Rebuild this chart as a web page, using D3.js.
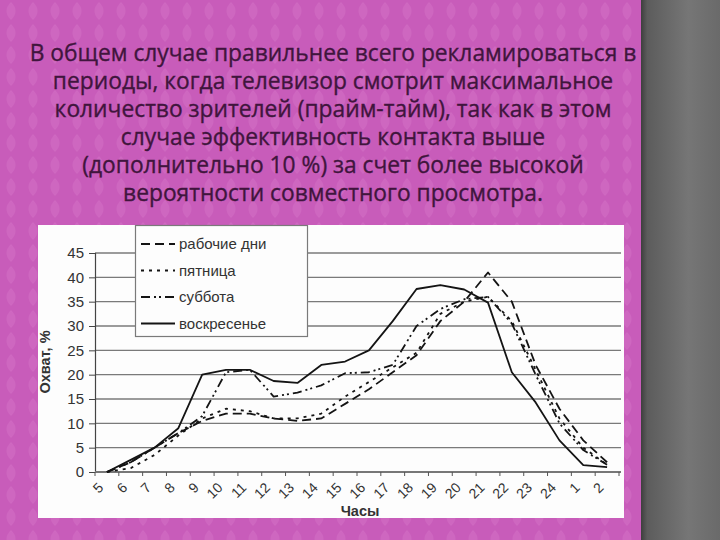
<!DOCTYPE html>
<html><head><meta charset="utf-8">
<script src="https://cdn.jsdelivr.net/npm/d3@7"></script>
<style>html,body{margin:0;padding:0;background:#c85cba;}svg{display:block;}</style>
</head><body>
<svg id="c" width="720" height="540"></svg>
<script>
// ---- data ----
const titleLines = [
  "В общем случае правильнее всего рекламироваться в",
  "периоды, когда телевизор смотрит максимальное",
  "количество зрителей (прайм-тайм), так как в этом",
  "случае эффективность контакта выше",
  "(дополнительно 10 %) за счет более высокой",
  "вероятности совместного просмотра."
];
const hours = ["5","6","7","8","9","10","11","12","13","14","15","16","17","18","19","20","21","22","23","24","1","2"];
const seriesNames = ["рабочие дни","пятница","суббота","воскресенье"];
const weekdays = [0, 2, 5, 8, 10.5, 12, 12, 11, 10.5, 11, 14, 17, 20.5, 24, 31, 35, 41, 35, 22, 13, 6.5, 2];
const friday   = [0, 0.8, 3.5, 7.5, 11, 13, 12.5, 11, 11, 12, 15.5, 18.5, 21.5, 24.5, 32.5, 35, 36, 31, 21, 11, 5, 1.5];
const saturday = [0, 2, 5, 8, 11.5, 20.5, 21, 15.5, 16.3, 17.8, 20.3, 20.5, 22, 30, 33.5, 35.5, 36, 30.5, 20, 10, 4.5, 1.5];
const sunday   = [0, 2.5, 5, 9, 20, 21, 21, 18.7, 18.3, 22, 22.7, 25, 31, 37.6, 38.4, 37.5, 34.8, 20.5, 14.3, 6.5, 1.4, 1];
const yTicks = [0, 5, 10, 15, 20, 25, 30, 35, 40, 45];
const yTitle = "Охват, %";
const xTitle = "Часы";

// ---- drawing ----
const svg = d3.select("#c");
const defs = svg.append("defs");
const pat = defs.append("pattern").attr("id","bgp").attr("patternUnits","userSpaceOnUse")
  .attr("width",22).attr("height",22);
pat.append("rect").attr("width",22).attr("height",22).attr("fill","#c85cba");
pat.append("path").attr("d","M11,2 Q20,11 11,20 Q2,11 11,2Z").attr("fill","#d06ac2").attr("opacity",0.8);
const grad = defs.append("linearGradient").attr("id","side").attr("x1","0").attr("x2","1").attr("y1","0").attr("y2","0");
grad.append("stop").attr("offset","0").attr("stop-color","#3e3e3e");
grad.append("stop").attr("offset","0.08").attr("stop-color","#5c5c5c");
grad.append("stop").attr("offset","0.6").attr("stop-color","#767676");
grad.append("stop").attr("offset","1").attr("stop-color","#6a6a6a");

svg.append("rect").attr("width",720).attr("height",540).attr("fill","url(#bgp)");
svg.append("rect").attr("x",641).attr("y",0).attr("width",79).attr("height",540).attr("fill","url(#side)");

// title
const tg = svg.append("g").attr("font-family","'Open Sans', 'DejaVu Sans', sans-serif")
  .attr("fill","#40153d").attr("stroke","#40153d").attr("stroke-width",0.35);
const tl = tg.selectAll("text").data(titleLines).join("text")
  .attr("x",333).attr("y",(d,i)=>61+i*28).attr("text-anchor","middle").text(d=>d);
let fs = 22; tl.attr("font-size",fs);
const w0 = tl.nodes()[0].getComputedTextLength();
fs = fs*607/w0; tl.attr("font-size",fs);

// chart panel
svg.append("rect").attr("x",38).attr("y",225).attr("width",586).attr("height",293).attr("fill","#fdfdfd");

const x = d3.scalePoint().domain(hours).range([95,619]).padding(0.5);
const y = d3.scaleLinear().domain([0,45]).range([472,253]);
const step = x.step();

// gridlines
svg.append("g").selectAll("line").data(yTicks.filter(v=>v>0)).join("line")
  .attr("x1",95).attr("x2",621).attr("y1",d=>y(d)).attr("y2",d=>y(d))
  .attr("stroke","#7a7a7a").attr("stroke-width",1.3);

// y axis
const ya = svg.append("g").attr("transform","translate(95,0)")
  .call(d3.axisLeft(y).tickValues(yTicks).tickSize(6).tickPadding(5));
ya.select(".domain").attr("stroke","#444").attr("stroke-width",1.2);
ya.selectAll(".tick line").attr("stroke","#444");
ya.selectAll(".tick text").attr("font-family","'Liberation Sans', Arial, sans-serif").attr("font-size",15).attr("fill","#333");

// x axis
svg.append("line").attr("x1",95).attr("x2",621).attr("y1",y(0)).attr("y2",y(0)).attr("stroke","#777").attr("stroke-width",2);
svg.append("g").selectAll("line").data(hours.concat(["end"])).join("line")
  .attr("x1",(d,i)=> i<hours.length ? x(d)-step/2 : x(hours[hours.length-1])+step/2)
  .attr("x2",(d,i)=> i<hours.length ? x(d)-step/2 : x(hours[hours.length-1])+step/2)
  .attr("y1",y(0)).attr("y2",y(0)+4).attr("stroke","#555");
svg.append("g").selectAll("text").data(hours).join("text")
  .attr("transform",d=>`translate(${x(d)-6},${485}) rotate(-45)`)
  .attr("text-anchor","end").attr("dy","0.35em")
  .attr("font-family","'Liberation Sans', Arial, sans-serif").attr("font-size",14).attr("fill","#333")
  .text(d=>d);

// axis titles
svg.append("text").attr("transform","translate(50,362) rotate(-90)").attr("text-anchor","middle")
  .attr("font-family","'Liberation Sans', Arial, sans-serif").attr("font-weight","bold").attr("font-size",14.5).attr("fill","#333").text(yTitle);
svg.append("text").attr("x",360).attr("y",516).attr("text-anchor","middle")
  .attr("font-family","'Liberation Sans', Arial, sans-serif").attr("font-weight","bold").attr("font-size",14.5).attr("fill","#333").text(xTitle);

// series
const series = [weekdays, friday, saturday, sunday];
const dashes = ["9,5", "3,5", "9,4,2,3,2,4", null];
const line = d3.line().x((d,i)=>x(hours[i])).y(d=>y(d));
svg.append("g").selectAll("path").data(series).join("path")
  .attr("d",d=>line(d)).attr("fill","none").attr("stroke","#141414").attr("stroke-width",1.8)
  .attr("stroke-dasharray",(d,i)=>dashes[i]).attr("stroke-linejoin","round");

// legend
const lg = svg.append("g");
lg.append("rect").attr("x",135.5).attr("y",225.5).attr("width",172).attr("height",111)
  .attr("fill","#fdfdfd").attr("stroke","#7a7a7a").attr("stroke-width",1.2);
const items = lg.selectAll("g").data(seriesNames).join("g")
  .attr("transform",(d,i)=>`translate(0,${244+i*26.5})`);
items.append("line").attr("x1",141).attr("x2",175).attr("y1",0).attr("y2",0)
  .attr("stroke","#141414").attr("stroke-width",1.8).attr("stroke-dasharray",(d,i)=>dashes[i]);
items.append("text").attr("x",179).attr("y",0).attr("dy","0.35em")
  .attr("font-family","'Liberation Sans', Arial, sans-serif").attr("font-size",15).attr("fill","#333").text(d=>d);
</script>
</body></html>
